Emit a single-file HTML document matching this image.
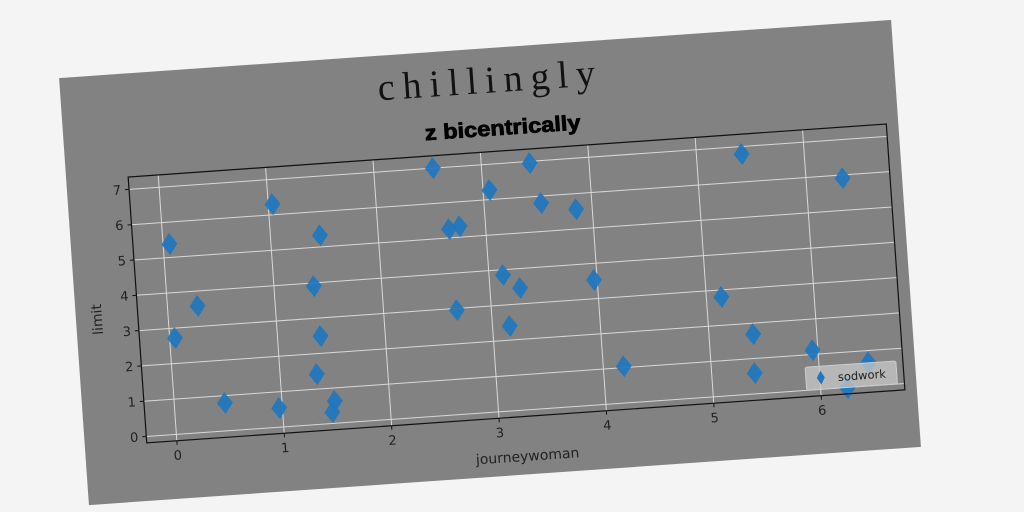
<!DOCTYPE html>
<html><head><meta charset="utf-8"><style>
html,body{margin:0;padding:0;background:#fff;width:1024px;height:512px;overflow:hidden}
svg text{font-family:"DejaVu Sans","Liberation Sans",sans-serif}
</style></head><body>
<svg id="chart" width="1024" height="512" viewBox="0 0 1024 512" xmlns="http://www.w3.org/2000/svg">
<rect x="0" y="0" width="1024" height="512" fill="#f4f4f4"/>
<g id="fig" transform="rotate(-4 490 262.5)">
<rect x="73" y="48.5" width="834" height="428" fill="#828282"/>
<text x="503" y="93" text-anchor="middle" font-size="38" fill="#111" style="font-family:'Liberation Serif',serif" letter-spacing="8">chillingly</text>
<text x="512" y="136" text-anchor="middle" font-size="21" font-weight="bold" fill="#000" textLength="156" lengthAdjust="spacingAndGlyphs" stroke="#000" stroke-width="0.8" style="font-family:'Liberation Sans Narrow','Liberation Sans',sans-serif">z bicentrically</text>
<g id="grid"></g>
<g id="marks"></g>
<rect x="135" y="152" width="760" height="266.5" fill="none" stroke="#111" stroke-width="1.2"/>
<g id="ticks"></g>
<text x="514" y="463" text-anchor="middle" font-size="14" fill="#222">journeywoman</text>
<text x="0" y="0" transform="translate(99 292) rotate(-90)" text-anchor="middle" font-size="14" fill="#222">limit</text>
<g>
<rect x="797" y="389" width="91" height="23" rx="2" fill="#c8c8c8" fill-opacity="0.75" stroke="#ccc"/>
<path d="M812 393.5 L816 400.5 L812 407.5 L808 400.5 Z" fill="#1f77c0"/>
<text x="829" y="405" font-size="11.5" fill="#222">sodwork</text>
</g>
</g>
</svg>
<script>
const xValues=[0.06,0.05,0.28,0.47,1.04,0.97,1.37,1.34,1.46,1.40,1.46,1.49,2.55,2.66,2.76,2.68,3.06,3.13,3.16,3.28,3.45,3.53,3.85,3.97,4.19,5.14,5.42,5.41,5.40,5.95,6.34,6.46,6.25];
const yValues=[5.38,2.72,3.58,0.79,6.30,0.54,3.91,1.42,5.33,2.49,0.32,0.63,7.00,5.25,5.31,2.95,6.27,3.85,2.40,3.45,6.95,5.80,5.56,3.53,1.04,2.80,6.79,1.69,0.59,1.12,5.91,0.67,-0.02];
const xTicks=[0,1,2,3,4,5,6];
const yTicks=[0,1,2,3,4,5,6,7];
const NS="http://www.w3.org/2000/svg";
const L=135,R=895,T=152,B=418.5;
const xMin=-0.28,xMax=6.78,yMin=-0.18,yMax=7.35;
function sx(v){return L+(v-xMin)/(xMax-xMin)*(R-L);}
function sy(v){return B-(v-yMin)/(yMax-yMin)*(B-T);}
function mk(tag,attrs,parent){const e=document.createElementNS(NS,tag);for(const k in attrs)e.setAttribute(k,attrs[k]);parent.appendChild(e);return e;}
const grid=document.getElementById('grid'),ticks=document.getElementById('ticks'),marks=document.getElementById('marks');
xTicks.forEach(t=>{
 const g=mk('line',{x1:sx(t),x2:sx(t),y1:T,y2:B,stroke:'#d8d8d8','stroke-width':1},grid);
 
 
 const tk=mk('line',{x1:sx(t),x2:sx(t),y1:B,y2:B+4,stroke:'#111'},ticks);
 
 
 const lb=mk('text',{x:sx(t),y:B+19,'text-anchor':'middle','font-size':13,fill:'#222'},ticks);
 lb.textContent=t;
 
 
});
yTicks.forEach(t=>{
 const g=mk('line',{x1:L,x2:R,y1:sy(t),y2:sy(t),stroke:'#d8d8d8','stroke-width':1},grid);
 
 
 const tk=mk('line',{x1:L-4,x2:L,y1:sy(t),y2:sy(t),stroke:'#111'},ticks);
 
 
 const lb=mk('text',{x:L-8,y:sy(t)+4.5,'text-anchor':'end','font-size':13,fill:'#222'},ticks);
 lb.textContent=t;
 
 
});
xValues.forEach((xv,i)=>{
 const cx=sx(xv),cy=sy(yValues[i]);
 const p=mk('path',{d:`M${cx} ${cy-11} L${cx+8} ${cy} L${cx} ${cy+11} L${cx-8} ${cy} Z`,fill:'#1f77c0','fill-opacity':0.92},marks);
 
 
});
</script>
</body></html>
